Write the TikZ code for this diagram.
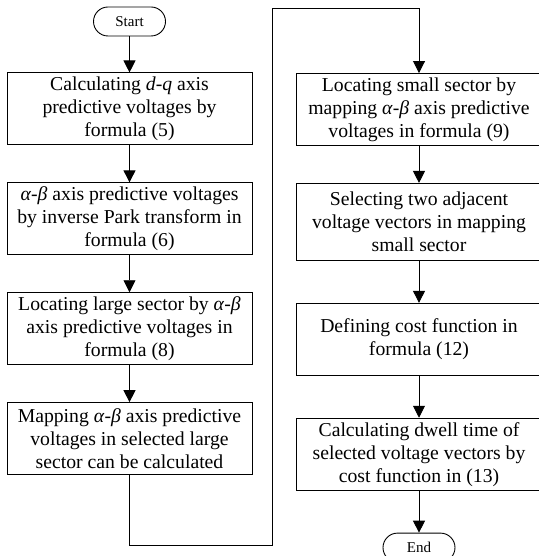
\documentclass[tikz,border=0pt]{standalone}
\usepackage{fontspec}
\setmainfont{Liberation Serif}
\usepackage{tikz}
\usetikzlibrary{positioning, arrows.meta}

\tikzset{
  box/.style={draw, line width=0.9pt, minimum width=245pt, minimum height=72pt,
    align=center, inner sep=0pt, font=\fontsize{19.7}{23}\selectfont},
  term/.style={draw, line width=0.9pt, rounded corners=14.5pt, minimum width=72pt,
    minimum height=29pt, inner sep=0pt, font=\fontsize{15}{18}\selectfont},
  flow/.style={line width=0.9pt, -{Triangle[length=12pt, width=12pt]}}
}

\begin{document}
\begin{tikzpicture}[x=1pt, y=-1pt, node distance=37pt]
  \useasboundingbox (0,0) rectangle (538,556);
  % Columna izquierda
  \node[term] (start) at (129.5,21.5) {Start};
  \node[box, below=36pt of start] (dq) {Calculating \textit{d}-\textit{q} axis\\ predictive voltages by\\ formula (5)};
  \node[box, below=of dq] (park) {\textit{α}-\textit{β} axis predictive voltages\\ by inverse Park transform in\\ formula (6)};
  \node[box, below=of park] (large) {Locating large sector by \textit{α}-\textit{β}\\ axis predictive voltages in\\ formula (8)};
  \node[box, below=of large] (mapping) {Mapping \textit{α}-\textit{β} axis predictive\\ voltages in selected large\\ sector can be calculated};

  % Columna derecha
  \node[box] (small) at (419,109.5) {Locating small sector by\\ mapping \textit{α}-\textit{β} axis predictive\\ voltages in formula (9)};
  \node[box, below=of small, minimum height=77pt] (select) {Selecting two adjacent\\ voltage vectors in mapping\\ small sector};
  \node[box, below=42pt of select] (cost) {Defining cost function in\\ formula (12)};
  \node[box, below=42pt of cost] (dwell) {Calculating dwell time of\\ selected voltage vectors by\\ cost function in (13)};
  \node[term, below=42pt of dwell] (end) {End};

  % Puntos de giro
  \coordinate (lowturn) at (272,545);
  \coordinate (highturn) at (272,8);

  % Conexiones
  \draw[flow] (start) -- (dq);
  \draw[flow] (dq) -- (park);
  \draw[flow] (park) -- (large);
  \draw[flow] (large) -- (mapping);
  \draw[flow] (mapping.south) |- (lowturn) -- (highturn) -| (small.north);
  \draw[flow] (small) -- (select);
  \draw[flow] (select) -- (cost);
  \draw[flow] (cost) -- (dwell);
  \draw[flow] (dwell) -- (end);
\end{tikzpicture}
\end{document}
